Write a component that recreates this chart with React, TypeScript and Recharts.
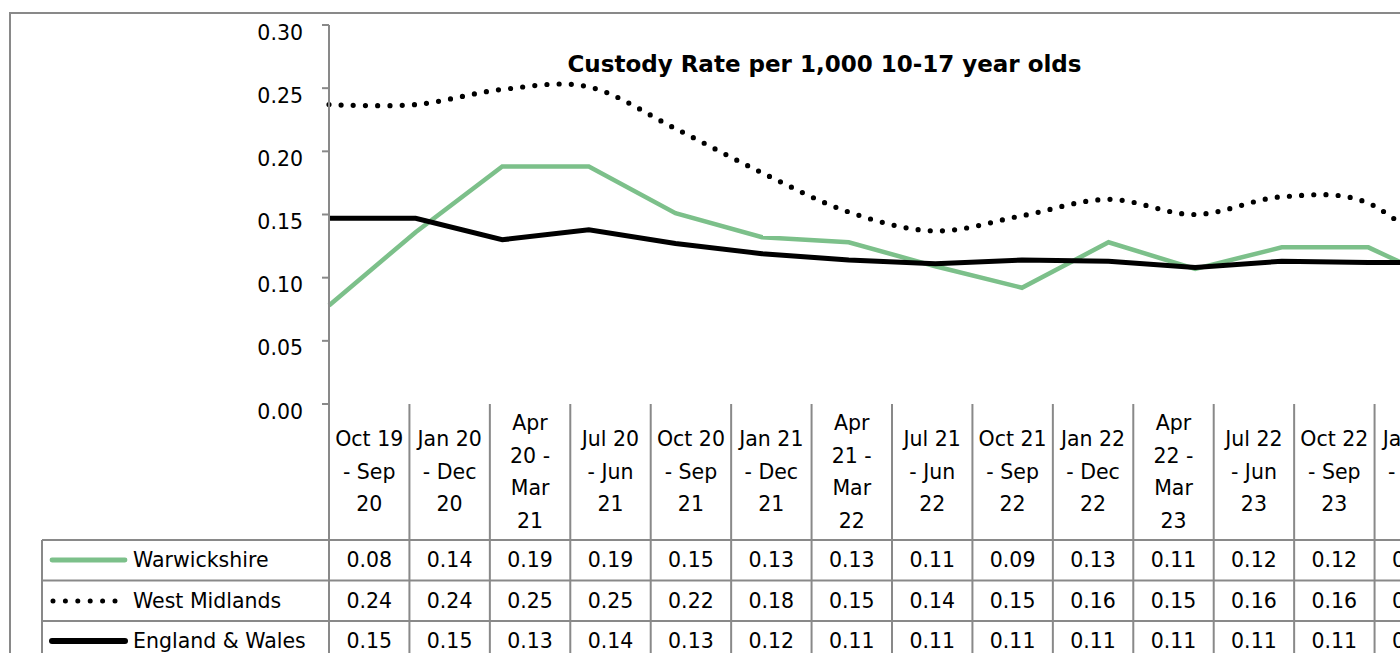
import React from 'react';
import { LineChart, Line, XAxis, YAxis } from 'recharts';

// periods (rolling 12 months), first one is Oct 19 - Sep 20
const categories = [
  'Oct 19 - Sep 20', 'Jan 20 - Dec 20', 'Apr 20 - Mar 21', 'Jul 20 - Jun 21',
  'Oct 20 - Sep 21', 'Jan 21 - Dec 21', 'Apr 21 - Mar 22', 'Jul 21 - Jun 22',
  'Oct 21 - Sep 22', 'Jan 22 - Dec 22', 'Apr 22 - Mar 23', 'Jul 22 - Jun 23',
  'Oct 22 - Sep 23', 'Jan 23 - Dec 23',
];

// how the labels wrap inside the data table header
const categoryLines = [
  ['Oct 19', '- Sep', '20'], ['Jan 20', '- Dec', '20'], ['Apr', '20 -', 'Mar', '21'],
  ['Jul 20', '- Jun', '21'], ['Oct 20', '- Sep', '21'], ['Jan 21', '- Dec', '21'],
  ['Apr', '21 -', 'Mar', '22'], ['Jul 21', '- Jun', '22'], ['Oct 21', '- Sep', '22'],
  ['Jan 22', '- Dec', '22'], ['Apr', '22 -', 'Mar', '23'], ['Jul 22', '- Jun', '23'],
  ['Oct 22', '- Sep', '23'], ['Jan 23', '- Dec', '23'],
];

const warwickshire = [0.078, 0.136, 0.188, 0.188, 0.151, 0.132, 0.128, 0.109, 0.092, 0.128, 0.107, 0.124, 0.124, 0.092];
const westMidlands = [0.237, 0.237, 0.249, 0.251, 0.218, 0.183, 0.152, 0.137, 0.149, 0.162, 0.15, 0.164, 0.159, 0.106];
const englandWales = [0.147, 0.147, 0.13, 0.138, 0.127, 0.119, 0.114, 0.111, 0.114, 0.113, 0.108, 0.113, 0.112, 0.112];

const yTicks = [0, 0.05, 0.1, 0.15, 0.2, 0.25, 0.3];

const FONT = '"DejaVu Sans", sans-serif';
const GREY = '#898989';
const GREEN = '#7cc08a';

const PLOT_LEFT = 329;
const PLOT_TOP = 25;
const PLOT_BOTTOM = 404;
const PLOT_W = 1126;
const COL_W = PLOT_W / categories.length;
const CHART_W = 1480;
const HEADER_H = 136;
const ROW_H = 40.5;
const TABLE_LEFT = 42;

const data = categories.map((c, i) => ({
  period: c,
  warwickshire: warwickshire[i],
  westMidlands: westMidlands[i],
  englandWales: englandWales[i],
}));

const seriesRows = [
  { name: 'Warwickshire', values: warwickshire, key: 'solidGreen' },
  { name: 'West Midlands', values: westMidlands, key: 'dots' },
  { name: 'England & Wales', values: englandWales, key: 'solidBlack' },
];

// excel style smoothing (uniform catmull-rom, same as d3 cardinal tension 0)
function excelSmooth(context: any) {
  const k = 1 / 6;
  let x0 = NaN, x1 = NaN, x2 = NaN, y0 = NaN, y1 = NaN, y2 = NaN, pt = 0;
  const seg = (x: number, y: number) =>
    context.bezierCurveTo(x1 + k * (x2 - x0), y1 + k * (y2 - y0), x2 + k * (x1 - x), y2 + k * (y1 - y), x2, y2);
  return {
    areaStart() {},
    areaEnd() {},
    lineStart() {
      x0 = x1 = x2 = y0 = y1 = y2 = NaN;
      pt = 0;
    },
    lineEnd() {
      if (pt === 2) context.lineTo(x2, y2);
      else if (pt === 3) seg(x1, y1);
    },
    point(x: number, y: number) {
      x = +x;
      y = +y;
      if (pt === 0) {
        pt = 1;
        context.moveTo(x, y);
      } else if (pt === 1) {
        pt = 2;
        x1 = x;
        y1 = y;
      } else {
        pt = 3;
        seg(x, y);
      }
      x0 = x1; x1 = x2; x2 = x;
      y0 = y1; y1 = y2; y2 = y;
    },
  };
}

function YTick(props: any) {
  const { x, y, payload } = props;
  return (
    <text x={x} y={y + 14.5} textAnchor="end" fontFamily={FONT} fontSize={20.5} fill="#000">
      {Number(payload.value).toFixed(2)}
    </text>
  );
}

function LegendKey({ kind }: { kind: string }) {
  return (
    <svg width={90} height={20} style={{ position: 'absolute', left: 50 - TABLE_LEFT - 4, top: ROW_H / 2 - 10 }}>
      {kind === 'dots' ? (
        <line x1={7} y1={10} x2={73} y2={10} stroke="#000" strokeWidth={5} strokeLinecap="round" strokeDasharray="0 12.4" />
      ) : (
        <line
          x1={6}
          y1={10}
          x2={79}
          y2={10}
          stroke={kind === 'solidGreen' ? GREEN : '#000'}
          strokeWidth={kind === 'solidGreen' ? 4.8 : 6}
          strokeLinecap="round"
        />
      )}
    </svg>
  );
}

function DataTable() {
  const tableBottom = PLOT_BOTTOM + HEADER_H + ROW_H * seriesRows.length;
  const rowTops = seriesRows.map((_, r) => PLOT_BOTTOM + HEADER_H + r * ROW_H);
  return (
    <>
      <svg width={CHART_W} height={700} style={{ position: 'absolute', left: 0, top: 0 }}>
        {categories.map((_, k) => (
          <line
            key={'v' + k}
            x1={PLOT_LEFT + (k + 1) * COL_W}
            x2={PLOT_LEFT + (k + 1) * COL_W}
            y1={PLOT_BOTTOM}
            y2={tableBottom}
            stroke={GREY}
            strokeWidth={2}
          />
        ))}
        <line x1={PLOT_LEFT} x2={PLOT_LEFT} y1={PLOT_BOTTOM} y2={tableBottom} stroke={GREY} strokeWidth={2} />
        <line x1={TABLE_LEFT} x2={TABLE_LEFT} y1={rowTops[0]} y2={tableBottom} stroke={GREY} strokeWidth={2} />
        {[...rowTops, tableBottom].map((t, r) => (
          <line key={'h' + r} x1={TABLE_LEFT} x2={PLOT_LEFT + PLOT_W} y1={t} y2={t} stroke={GREY} strokeWidth={2} />
        ))}
      </svg>
      {categoryLines.map((lines, k) => (
        <div
          key={'c' + k}
          style={{
            position: 'absolute',
            left: PLOT_LEFT + k * COL_W,
            top: PLOT_BOTTOM,
            width: COL_W,
            height: HEADER_H,
            display: 'flex',
            flexDirection: 'column',
            justifyContent: 'center',
            alignItems: 'center',
            lineHeight: '32.5px',
            fontSize: 20.5,
            whiteSpace: 'nowrap',
          }}
        >
          {lines.map((l, j) => (
            <div key={j}>{l}</div>
          ))}
        </div>
      ))}
      {seriesRows.map((s, r) => (
        <React.Fragment key={s.name}>
          <div
            style={{
              position: 'absolute',
              left: TABLE_LEFT,
              top: rowTops[r],
              width: PLOT_LEFT - TABLE_LEFT,
              height: ROW_H,
              display: 'flex',
              alignItems: 'center',
              fontSize: 20.5,
              whiteSpace: 'nowrap',
            }}
          >
            <LegendKey kind={s.key} />
            <span style={{ position: 'absolute', left: 133 - TABLE_LEFT }}>{s.name}</span>
          </div>
          {s.values.map((v, k) => (
            <div
              key={k}
              style={{
                position: 'absolute',
                left: PLOT_LEFT + k * COL_W,
                top: rowTops[r],
                width: COL_W,
                height: ROW_H,
                display: 'flex',
                alignItems: 'center',
                justifyContent: 'center',
                fontSize: 20.5,
              }}
            >
              {v.toFixed(2)}
            </div>
          ))}
        </React.Fragment>
      ))}
    </>
  );
}

export default function App() {
  return (
    <div
      style={{
        position: 'fixed',
        left: 0,
        top: 0,
        width: 1400,
        height: 653,
        overflow: 'hidden',
        background: '#fff',
        fontFamily: FONT,
        color: '#000',
      }}
    >
      <div
        style={{
          position: 'absolute',
          left: 9,
          top: 12,
          width: 2000,
          height: 1000,
          borderLeft: `2.5px solid ${GREY}`,
          borderTop: `2px solid ${GREY}`,
        }}
      />
      <div style={{ position: 'absolute', left: 0, top: 0, width: CHART_W }}>
        <LineChart
          width={CHART_W}
          height={PLOT_BOTTOM + 30}
          data={data}
          margin={{ top: PLOT_TOP, right: CHART_W - PLOT_LEFT - PLOT_W, bottom: 30, left: 0 }}
        >
          <XAxis dataKey="period" height={0} tick={false} tickLine={false} axisLine={{ stroke: GREY, strokeWidth: 2 }} />
          <YAxis
            width={PLOT_LEFT}
            domain={[0, 0.3]}
            ticks={yTicks}
            interval={0}
            tickSize={7}
            tickMargin={19}
            tick={<YTick />}
            tickLine={{ stroke: GREY, strokeWidth: 2 }}
            axisLine={{ stroke: GREY, strokeWidth: 2 }}
          />
          <Line
            dataKey="warwickshire"
            type="linear"
            stroke={GREEN}
            strokeWidth={4.5}
            dot={false}
            activeDot={false}
            isAnimationActive={false}
          />
          <Line
            dataKey="westMidlands"
            type={excelSmooth as any}
            stroke="#000"
            strokeWidth={5.2}
            strokeLinecap="round"
            strokeDasharray="0 12.2"
            dot={false}
            activeDot={false}
            isAnimationActive={false}
          />
          <Line
            dataKey="englandWales"
            type="linear"
            stroke="#000"
            strokeWidth={5}
            dot={false}
            activeDot={false}
            isAnimationActive={false}
          />
        </LineChart>
        <DataTable />
      </div>
      <div
        style={{
          position: 'absolute',
          left: 524.5,
          top: 52.6,
          width: 600,
          textAlign: 'center',
          fontSize: 23,
          lineHeight: '23px',
          fontWeight: 'bold',
          whiteSpace: 'nowrap',
        }}
      >
        Custody Rate per 1,000 10-17 year olds
      </div>
    </div>
  );
}
